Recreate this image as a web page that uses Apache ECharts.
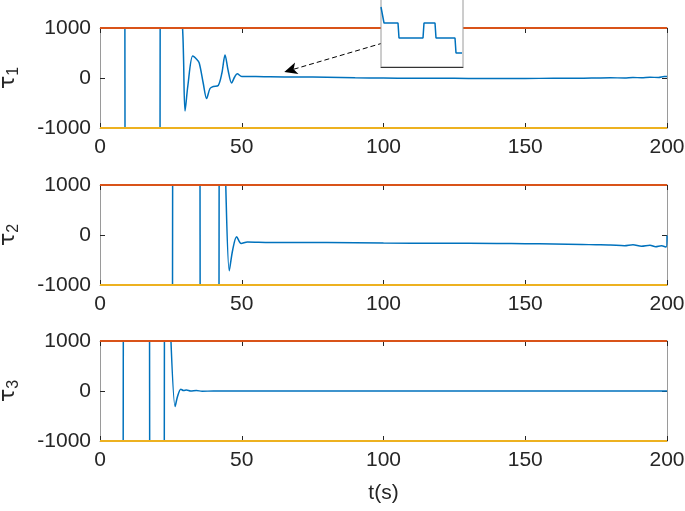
<!DOCTYPE html>
<html>
<head>
<meta charset="utf-8">
<script src="https://cdn.jsdelivr.net/npm/echarts@6/dist/echarts.min.js"></script>
<style>
html, body { margin: 0; padding: 0; background: #fff; }
#chart { width: 685px; height: 511px; }
</style>
</head>
<body>
<div id="chart"></div>
<script>
// time axis ticks / bounds
const xTicks = [0, 50, 100, 150, 200]
const yTicks = [-1000, 0, 1000]
const boundT = [0, 200]
const upper = [1000, 1000]
const lower = [-1000, -1000]

// tau1 (values beyond +-1000 are clipped by the axes)
const t1 = [0, 8.7, 8.9, 21.1, 21.3, 28.9, 30, 31, 32.7, 34, 35, 36.4, 37.6, 38.8, 40, 41.7, 43, 44.1, 45.2, 46.4, 47.5, 48.4, 50, 55, 60, 70, 80, 90, 100, 110, 120, 130, 140, 150, 160, 170, 175, 180, 185, 188, 191, 194, 197, 199, 200]
const tau1 = [5000, 5000, -5000, -5000, 5000, 1200, -660, -150, 440, 380, 300, -100, -410, -210, -170, -150, 100, 460, 150, -100, 20, 85, 30, 30, 25, 20, 15, 5, 0, -5, -5, -8, -8, -10, -5, -5, 0, 5, 0, 10, 5, 15, 10, 30, 30]

// tau2
const t2 = [0, 25.5, 25.7, 35.2, 35.4, 41.9, 42.1, 44.2, 45.6, 46.8, 48.2, 49.8, 52, 60, 80, 100, 120, 140, 150, 160, 170, 175, 180, 185, 188, 191, 194, 196, 198, 199.7, 200]
const tau2 = [-5000, -5000, 5000, 5000, -5000, -5000, 5000, 1300, -714, -300, -35, -170, -140, -150, -150, -160, -165, -170, -175, -180, -190, -195, -200, -215, -195, -225, -205, -235, -215, -240, -10]

// tau3
const t3 = [0, 8.1, 8.3, 17.4, 17.6, 22.6, 22.8, 24.7, 26.5, 27.4, 28.5, 29.5, 30.5, 32, 34, 36, 40, 60, 100, 150, 200]
const tau3 = [-5000, -5000, 5000, 5000, -5000, -5000, 5000, 1500, -310, -100, 35, 10, 20, 0, 10, -5, 0, 0, 0, 0, 0]

// inset (zoomed staircase)
const insetT = [0, 0.3, 1.7, 1.8, 4.2, 4.3, 5.4, 5.5, 7.4, 7.5, 8.1]
const insetY = [6.0, 4.4, 4.4, 2.9, 2.9, 4.4, 4.4, 2.9, 2.9, 1.4, 1.4]

const blue = '#0072BD'
const red = '#D95319'
const yellow = '#EDB120'
const txt = '#262626'
const boxColor = '#9a9a9a'
const font = 'Liberation Sans'

const zip = (a, b) => a.map((v, i) => [v, b[i]])
const plain = v => String(v)

const tops = [28, 185, 341]
const names = ['1', '2', '3']
const grid = tops.map(t => ({ left: 100, top: t, width: 567, height: 100, outerBoundsMode: 'none' }))
grid.push({ left: 381, top: -1, width: 82, height: 68, show: true, backgroundColor: '#fff',
  borderColor: boxColor, borderWidth: 1, z: 10, outerBoundsMode: 'none' })

const xAxis = []
const yAxis = []
tops.forEach((t, i) => {
  xAxis.push({
    type: 'value', gridIndex: i, min: 0, max: 200, interval: 50, position: 'bottom',
    axisLine: { show: true, onZero: false, lineStyle: { color: boxColor } },
    axisTick: { show: true, inside: true, length: 5, lineStyle: { color: txt } },
    axisLabel: { show: true, color: txt, fontSize: 21, fontFamily: font, margin: 9, formatter: plain },
    splitLine: { show: false },
    name: i === 2 ? 't(s)' : '', nameLocation: 'middle', nameGap: 42,
    nameTextStyle: { color: txt, fontSize: 21, fontFamily: font }
  })
  xAxis.push({
    type: 'value', gridIndex: i, min: 0, max: 200, interval: 50, position: 'top',
    axisLine: { show: true, onZero: false, lineStyle: { color: boxColor } },
    axisTick: { show: true, inside: true, length: 5, lineStyle: { color: txt } },
    axisLabel: { show: false }, splitLine: { show: false }
  })
  yAxis.push({
    type: 'value', gridIndex: i, min: -1000, max: 1000, interval: 1000, position: 'left',
    axisLine: { show: true, onZero: false, lineStyle: { color: boxColor } },
    axisTick: { show: true, inside: true, length: 5, lineStyle: { color: txt } },
    axisLabel: { show: true, color: txt, fontSize: 21, fontFamily: font, margin: 9, formatter: plain },
    splitLine: { show: false },
    name: '{a|τ}{b|' + names[i] + '}', nameLocation: 'middle', nameGap: 78, nameRotate: 90,
    nameTextStyle: {
      color: txt,
      rich: {
        a: { fontSize: 22, fontFamily: 'DejaVu Sans', color: txt, lineHeight: 28, verticalAlign: 'middle' },
        b: { fontSize: 16, fontFamily: font, color: txt, lineHeight: 28, verticalAlign: 'bottom' }
      }
    }
  })
  yAxis.push({
    type: 'value', gridIndex: i, min: -1000, max: 1000, interval: 1000, position: 'right',
    axisLine: { show: true, onZero: false, lineStyle: { color: boxColor } },
    axisTick: { show: true, inside: true, length: 5, lineStyle: { color: txt } },
    axisLabel: { show: false }, splitLine: { show: false }
  })
})
// inset axes
xAxis.push({ type: 'value', gridIndex: 3, min: 0, max: 8.2, show: true, z: 11,
  axisLine: { show: true, onZero: false, lineStyle: { color: '#333' } }, axisTick: { show: false },
  axisLabel: { show: false }, splitLine: { show: false } })
yAxis.push({ type: 'value', gridIndex: 3, min: 0, max: 6.8, show: true, z: 11,
  axisLine: { show: false }, axisTick: { show: false },
  axisLabel: { show: false }, splitLine: { show: false } })

const signals = [zip(t1, tau1), zip(t2, tau2), zip(t3, tau3)]
const series = []
signals.forEach((d, i) => {
  const s = {
    type: 'line', xAxisIndex: 2 * i, yAxisIndex: 2 * i, data: d, showSymbol: false,
    clip: true, animation: false, smooth: 0.3, lineStyle: { color: blue, width: 1.5 }, z: 2
  }
  if (i === 0) {
    s.markLine = {
      silent: true, animation: false, symbol: ['none', 'arrow'], symbolSize: [9, 13],
      label: { show: false },
      lineStyle: { color: '#000', type: [5, 3], width: 1 },
      data: [[{ coord: [99.8, 700] }, { coord: [65, 120] }]]
    }
  }
  series.push(s)
  series.push({ type: 'line', xAxisIndex: 2 * i, yAxisIndex: 2 * i, data: zip(boundT, upper),
    showSymbol: false, clip: false, animation: false, lineStyle: { color: red, width: 2 }, z: 3 })
  series.push({ type: 'line', xAxisIndex: 2 * i, yAxisIndex: 2 * i, data: zip(boundT, lower),
    showSymbol: false, clip: false, animation: false, lineStyle: { color: yellow, width: 2 }, z: 3 })
})
series.push({ type: 'line', xAxisIndex: 6, yAxisIndex: 6, data: zip(insetT, insetY),
  showSymbol: false, animation: false, lineStyle: { color: blue, width: 1.5 }, z: 12 })

const chart = echarts.init(document.getElementById('chart'))
chart.setOption({
  backgroundColor: '#fff',
  animation: false,
  grid: grid,
  xAxis: xAxis,
  yAxis: yAxis,
  series: series
})
</script>
</body>
</html>
